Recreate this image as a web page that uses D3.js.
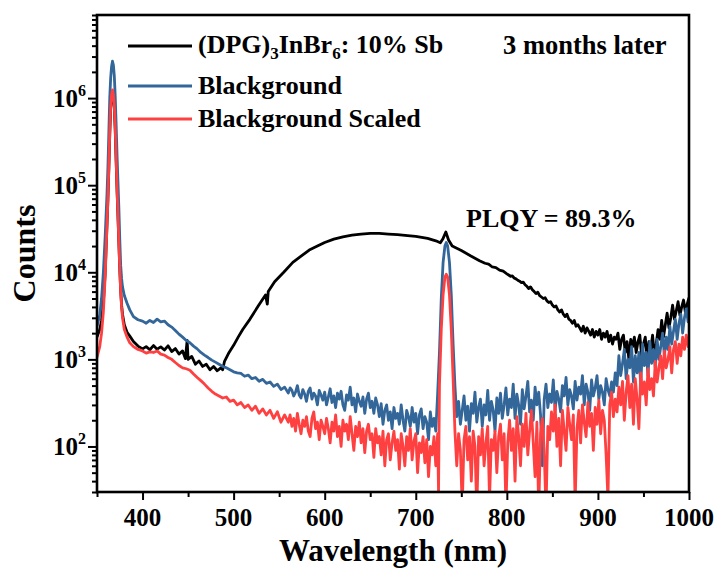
<!DOCTYPE html>
<html>
<head>
<meta charset="utf-8">
<script src="https://cdn.jsdelivr.net/npm/d3@7"></script>
<style>
  body { margin: 0; background: #fff; }
  svg { display: block; font-family: "Liberation Serif", "Times New Roman", serif; font-weight: bold; }
</style>
</head>
<body>
<div id="chart"></div>
<script>
// wavelength (nm), counts
const sampleSeries = [
  [350,1800],[353,2200],[355,2800],[357,4500],[359,1.0e4],[361,3.6e4],[362,7e4],[363,1.55e5],
  [364,3.8e5],[365,7.6e5],[366,1.05e6],[367,1.18e6],[368,1.05e6],[369,7.6e5],[370,4.3e5],
  [371,1.9e5],[372,8.8e4],[373,4.4e4],[374,2.2e4],[375,1.1e4],[376,6200],[377,4200],[378,3300],
  [380,2500],[383,2050],[386,1850],[390,1600],[395,1420],[400,1320],[404,1400],[408,1290],
  [412,1440],[416,1310],[420,1390],[424,1280],[428,1430],[432,1230],[436,1330],[440,1150],
  [444,1250],[447,1020],[449,1650],[450,1000],[454,1080],[458,880],[462,960],[466,830],
  [470,880],[474,760],[478,830],[482,740],[486,800],[488,760],[490,950],[495,1200],[500,1450],
  [505,1800],[510,2200],[518,2900],[527,4100],[535,5500],[537,4300],[538,6000],[545,7800],
  [555,1.0e4],[565,1.3e4],[573,1.5e4],[583,1.8e4],[592,2.0e4],[600,2.2e4],[610,2.4e4],
  [620,2.55e4],[630,2.67e4],[640,2.75e4],[650,2.8e4],[660,2.8e4],[670,2.75e4],[680,2.7e4],
  [691,2.63e4],[700,2.58e4],[713,2.45e4],[722,2.3e4],[727,2.18e4],[730,2.45e4],[733,2.9e4],
  [736,2.35e4],[740,2.0e4],[750,1.78e4],[760,1.55e4],[770,1.36e4],[776,1.27e4],[780,1.24e4],
  [784,1.15e4],[788,1.13e4],[792,1.06e4],[796,1.03e4],
  [800,9600],[802,9300],[804,9000],[806,9100],[808,8600],[810,8400],[812,8100],[814,7900],
  [816,7600],[818,7700],[820,7200],[822,6900],[824,6500],[826,6800],[828,6300],[830,6000],
  [832,5700],[834,5900],[836,5400],[838,5200],[840,5000],[842,5100],[844,4700],[846,4500],
  [848,4600],[850,4200],[852,4000],[854,4100],[856,3700],[858,3500],[860,3700],[862,3300],
  [864,3100],[866,3300],[868,2900],[870,2800],[872,2600],[874,2800],[876,2400],[878,2500],
  [880,2300],[882,2100],[884,2400],[886,2000],[888,2300],[890,2100],[892,1900],[894,2200],
  [896,1800],[898,2100],[900,1900],[902,2200],[904,1700],[906,2000],[908,1800],[910,2100],
  [912,1600],[914,1900],[916,1500],[918,1800],[920,1700],[922,2000],[924,1300],[926,1700],
  [928,1900],[930,1200],[932,1600],[934,1000],[936,1700],[938,1400],[940,1800],[942,1200],
  [944,1600],[946,1900],[948,1100],[950,1500],[952,1800],[954,1000],[956,1600],[958,1300],
  [960,1900],[962,1100],[964,1500],[966,2200],[968,1700],[970,2800],[972,1800],[974,2500],
  [976,3400],[978,2300],[980,3000],[982,4200],[984,2900],[986,3600],[988,4600],[990,3200],
  [992,4000],[994,4800],[996,3500],[998,4300],[1000,5100]
];

const backgroundSeries = [
  [350,2400],[353,3200],[355,5000],[357,1.0e4],[359,2.6e4],[361,8e4],[362,1.6e5],[363,4e5],
  [364,1.0e6],[365,1.7e6],[366,2.3e6],[367,2.65e6],[368,2.4e6],[369,1.8e6],[370,1.05e6],
  [371,5e5],[372,2.2e5],[373,1.1e5],[374,5.5e4],[375,2.4e4],[376,1.2e4],[377,8500],[378,6800],
  [380,5400],[383,4400],[386,3700],[390,3100],[395,2850],[400,2750],[404,2600],[408,2800],
  [412,2650],[416,2900],[420,2700],[424,2750],[428,2500],[432,2350],[436,2150],[440,1950],
  [444,1800],[448,1650],[452,1550],[456,1420],[460,1320],[464,1200],[468,1120],[472,1050],
  [476,980],[480,930],[484,880],[488,830],[492,800],[496,760],[500,720],[504,700],[508,690],
  [512,640],[516,660],[520,600],[524,620],[528,560],[532,590],[536,530],[540,550],[544,490],
  [548,520],[552,450],[556,480],
  [560,410],[562,470],[564,440],[566,380],[568,420],[570,500],[572,390],[574,360],[576,450],
  [578,400],[580,330],[582,430],[584,470],[586,350],[588,410],[590,380],[592,300],[594,440],
  [596,390],[598,340],[600,420],[602,300],[604,370],[606,460],[608,320],[610,380],[612,280],
  [614,410],[616,350],[618,430],[620,300],[622,260],[624,390],[626,340],[628,480],[630,300],
  [632,360],[634,250],[636,400],[638,330],[640,290],[642,370],[644,240],[646,350],[648,410],
  [650,280],[652,330],[654,240],[656,360],[658,300],[660,220],[662,310],[664,180],[666,260],
  [668,300],[670,200],[672,250],[674,160],[676,280],[678,210],[680,240],[682,180],[684,300],
  [686,200],[688,150],[690,260],[692,220],[694,170],[696,280],[698,190],[700,240],[702,140],
  [704,230],[706,270],[708,160],[710,220],[712,190],[714,120],[716,250],[718,170],[720,210],
  [722,150],
  [724,400],[726,1200],[728,5000],[730,1.3e4],[732,2.0e4],[733.5,2.2e4],[735,2.0e4],
  [737,1.3e4],[739,5500],[741,1500],[743,500],
  [745,220],[747,330],[749,180],[751,260],[753,380],[755,200],[757,290],[759,150],[761,310],
  [763,240],[765,420],[767,190],[769,280],[771,350],[773,170],[775,300],[777,230],[779,440],
  [781,200],[783,330],[785,260],[787,150],[789,360],[791,240],[793,410],[795,210],[797,300],
  [799,470],[801,230],[803,350],[805,280],[807,520],[809,210],[811,400],[813,300],[815,180],
  [817,450],[819,270],[821,380],[823,560],[825,250],[827,340],[829,200],[831,480],[833,300],
  [835,420],[837,230],[839,60],[841,350],[843,520],[845,280],[847,400],[849,320],[851,580],
  [853,260],[855,430],[857,350],[859,250],[861,500],[863,380],[865,620],[867,300],[869,450],
  [871,380],[873,270],[875,560],[877,340],[879,480],[881,400],[883,650],[885,300],[887,520],
  [889,420],[891,260],[893,580],[895,380],[897,470],[899,650],[901,350],[903,500],[905,420],
  [907,300],[909,600],[911,450],[913,380],[915,550],[917,420],[919,700],[921,500],[923,1100],
  [925,650],[927,900],[929,1300],[931,600],[933,1000],[935,800],[937,1400],[939,550],
  [941,1100],[943,700],[945,1200],[947,500],[949,1500],[951,850],[953,1200],[955,650],
  [957,1600],[959,900],[961,1300],[963,800],[965,1700],[967,1000],[969,1400],[971,2000],
  [973,1100],[975,1800],[977,1300],[979,2400],[981,1500],[983,2100],[985,2900],[987,1700],
  [989,2600],[991,3300],[993,2000],[995,3000],[997,3800],[999,2700],[1000,4000]
];

const scaledSeries = [
  [350,1050],[353,1400],[355,2000],[357,3500],[359,9000],[361,3.5e4],[362,7e4],[363,1.6e5],
  [364,4e5],[365,8e5],[366,1.1e6],[367,1.24e6],[368,1.1e6],[369,8e5],[370,4.5e5],[371,2e5],
  [372,9e4],[373,4.5e4],[374,2.2e4],[375,1.1e4],[376,6000],[377,4000],[378,3000],[380,2200],
  [383,1800],[386,1550],[390,1400],[395,1300],[400,1250],[404,1180],[408,1220],[412,1200],
  [416,1250],[420,1150],[424,1120],[428,1050],[432,1000],[436,920],[440,850],[444,800],
  [448,780],[452,750],[456,680],[460,620],[464,570],[468,520],[472,470],[476,430],[480,400],
  [484,380],[488,360],[492,370],[496,330],[500,340],[504,300],[508,320],[512,280],[516,300],
  [520,260],[524,290],[528,240],[532,270],[536,230],[540,260],[544,210],[548,250],[552,190],
  [556,230],
  [560,190],[562,230],[564,170],[566,210],[568,150],[570,240],[572,180],[574,140],[576,200],
  [578,170],[580,220],[582,150],[584,130],[586,210],[588,250],[590,160],[592,190],[594,120],
  [596,200],[598,170],[600,140],[602,210],[604,160],[606,110],[608,190],[610,150],[612,230],
  [614,130],[616,170],[618,100],[620,200],[622,150],[624,180],[626,120],[628,220],[630,140],
  [632,90],[634,170],[636,130],[638,190],[640,110],[642,160],[644,85],[646,150],[648,180],
  [650,120],[652,140],[654,75],[656,160],[658,110],[660,130],[662,80],[664,150],[666,60],
  [668,120],[670,140],[672,70],[674,110],[676,150],[678,90],[680,120],[682,55],[684,140],
  [686,100],[688,60],[690,130],[692,90],[694,160],[696,70],[698,115],[700,140],[702,50],
  [704,110],[706,85],[708,130],[710,65],[712,120],[714,45],[716,100],[718,80],[720,130],
  [722,60],[724,140],[725,30],
  [726,500],[728,2200],[730,5500],[732,8800],[733.5,9500],[735,8800],[737,5500],[739,2200],
  [741,600],[743,150],
  [745,60],[747,140],[749,90],[751,20],[753,120],[755,170],[757,70],[759,130],[761,40],
  [763,150],[765,100],[767,18],[769,130],[771,80],[773,160],[775,60],[777,110],[779,170],
  [781,25],[783,120],[785,90],[787,150],[789,50],[791,130],[793,180],[795,70],[797,140],
  [799,20],[801,110],[803,200],[805,90],[807,160],[809,40],[811,220],[813,130],[815,60],
  [817,180],[819,100],[821,240],[823,80],[825,150],[827,260],[829,110],[831,45],[833,190],
  [835,18],[837,140],[839,210],[841,90],[843,18],[845,170],[847,120],[849,250],[851,150],
  [853,300],[855,100],[857,210],[859,60],[861,260],[863,150],[865,90],[867,280],[869,180],
  [871,120],[873,230],[875,22],[877,160],[879,260],[881,110],[883,300],[885,190],[887,130],
  [889,320],[891,170],[893,240],[895,90],[897,280],[899,180],[901,340],[903,140],[905,260],
  [907,200],[909,80],[911,25],[913,300],[915,420],[917,220],[919,350],[921,250],[923,480],
  [925,300],[927,560],[929,200],[931,420],[933,650],[935,280],[937,520],[939,180],[941,600],
  [943,350],[945,160],[947,700],[949,400],[951,550],[953,300],[955,780],[957,450],[959,600],
  [961,380],[963,950],[965,550],[967,800],[969,1100],[971,600],[973,1250],[975,800],
  [977,1000],[979,1400],[981,700],[983,1300],[985,1600],[987,900],[989,1500],[991,1100],
  [993,1800],[995,1300],[997,1900],[999,1400],[1000,1600]
];

const seriesColors = ["#000000", "#336699", "#ff4040"];
const xTicks = [400, 500, 600, 700, 800, 900, 1000];
const xMinorTicks = [350, 450, 550, 650, 750, 850, 950];
const yDecades = [2, 3, 4, 5, 6];

const width = 717;
const height = 568;
const margin = { top: 15, right: 28, bottom: 76, left: 97 };

const svg = d3.select("#chart").append("svg")
  .attr("width", width)
  .attr("height", height);

const x = d3.scaleLinear().domain([350, 1000]).range([margin.left, width - margin.right]);
const y = d3.scaleLog().domain([30, 9e6]).range([height - margin.bottom, margin.top]);

// minor log ticks 2..9 per decade inside the domain
const yMinorTicks = [];
for (let e = 1; e <= 6; e++) {
  for (let m = 2; m <= 9; m++) {
    const v = m * 10 ** e;
    if (v >= y.domain()[0] && v <= y.domain()[1]) yMinorTicks.push(v);
  }
}

svg.append("defs").append("clipPath").attr("id", "plot-clip")
  .append("rect")
  .attr("x", margin.left).attr("y", margin.top)
  .attr("width", width - margin.left - margin.right)
  .attr("height", height - margin.top - margin.bottom);

const line = d3.line()
  .x(d => x(d[0]))
  .y(d => y(Math.max(d[1], 1)));

const plot = svg.append("g").attr("clip-path", "url(#plot-clip)");
[sampleSeries, backgroundSeries, scaledSeries].forEach((s, i) => {
  plot.append("path")
    .datum(s)
    .attr("fill", "none")
    .attr("stroke", seriesColors[i])
    .attr("stroke-width", 2.8)
    .attr("stroke-linejoin", "round")
    .attr("d", line);
});

// axes
const bottom = height - margin.bottom;
svg.append("g")
  .attr("transform", `translate(0,${bottom})`)
  .call(d3.axisBottom(x).tickValues(xMinorTicks).tickSize(5).tickFormat(""))
  .call(g => g.select(".domain").remove());
svg.append("g")
  .attr("transform", `translate(0,${bottom})`)
  .call(d3.axisBottom(x).tickValues(xTicks).tickSize(8).tickFormat(""))
  .call(g => g.select(".domain").remove());
svg.append("g")
  .attr("transform", `translate(${margin.left},0)`)
  .call(d3.axisLeft(y).tickValues(yMinorTicks).tickSize(5).tickFormat(""))
  .call(g => g.select(".domain").remove());
svg.append("g")
  .attr("transform", `translate(${margin.left},0)`)
  .call(d3.axisLeft(y).tickValues(yDecades.map(d => 10 ** d)).tickSize(9).tickFormat(""))
  .call(g => g.select(".domain").remove());
svg.selectAll(".tick line").attr("stroke", "#000").attr("stroke-width", 2);

svg.append("rect")
  .attr("x", margin.left).attr("y", margin.top)
  .attr("width", width - margin.left - margin.right)
  .attr("height", height - margin.top - margin.bottom)
  .attr("fill", "none")
  .attr("stroke", "#000")
  .attr("stroke-width", 2.6);

svg.append("g").selectAll("text")
  .data(xTicks)
  .join("text")
  .attr("x", d => x(d))
  .attr("y", bottom + 34)
  .attr("text-anchor", "middle")
  .attr("font-size", 25)
  .text(d => d);

const yLabels = svg.append("g").selectAll("text")
  .data(yDecades)
  .join("text")
  .attr("x", margin.left - 11)
  .attr("y", d => y(10 ** d) + 9)
  .attr("text-anchor", "end")
  .attr("font-size", 25);
yLabels.append("tspan").text("10");
yLabels.append("tspan").attr("font-size", 16).attr("dy", -11).text(d => d);

svg.append("text")
  .attr("x", (margin.left + width - margin.right) / 2)
  .attr("y", 561)
  .attr("text-anchor", "middle")
  .attr("font-size", 31)
  .text("Wavelength (nm)");

svg.append("text")
  .attr("transform", `translate(35,${(margin.top + bottom) / 2}) rotate(-90)`)
  .attr("text-anchor", "middle")
  .attr("font-size", 32)
  .text("Counts");

// legend
const legendRows = [46, 86, 119];
const legend = svg.append("g");
legendRows.forEach((ly, i) => {
  legend.append("line")
    .attr("x1", 128).attr("x2", 192)
    .attr("y1", ly).attr("y2", ly)
    .attr("stroke", seriesColors[i])
    .attr("stroke-width", 2.8);
});
const label0 = legend.append("text").attr("x", 198).attr("y", legendRows[0] + 7).attr("font-size", 26);
label0.append("tspan").text("(DPG)");
label0.append("tspan").attr("font-size", 17).attr("dy", 6).text("3");
label0.append("tspan").attr("dy", -6).text("InBr");
label0.append("tspan").attr("font-size", 17).attr("dy", 6).text("6");
label0.append("tspan").attr("dy", -6).text(": 10% Sb");
legend.append("text").attr("x", 198).attr("y", legendRows[1] + 8).attr("font-size", 26).text("Blackground");
legend.append("text").attr("x", 198).attr("y", legendRows[2] + 8).attr("font-size", 26).text("Blackground Scaled");

svg.append("text").attr("x", 503).attr("y", 54).attr("font-size", 26.5).text("3 months later");
svg.append("text").attr("x", 466).attr("y", 227).attr("font-size", 26).text("PLQY = 89.3%");
</script>
</body>
</html>
